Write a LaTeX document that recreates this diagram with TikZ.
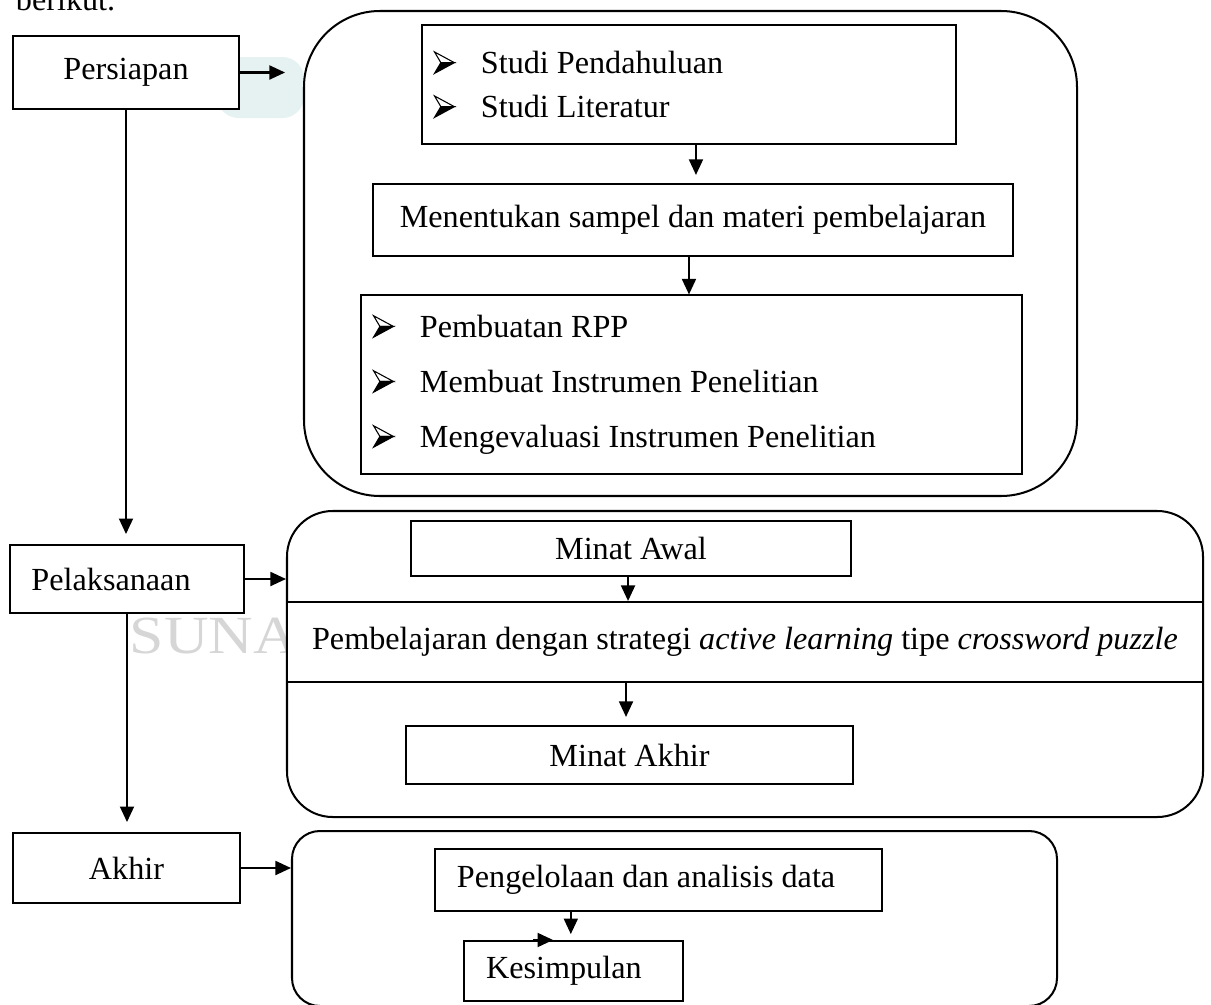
\documentclass[tikz,border=0pt]{standalone}
\usepackage{fontspec}
\setmainfont{Liberation Serif}
\usetikzlibrary{arrows.meta}

\definecolor{latar}{RGB}{230,241,241}
\def\px{0.3727pt}
\newcommand{\tandabutir}{\tikz[baseline=0pt, x=7.4pt, y=8pt, line width=0.4pt, line join=miter]{%
  \filldraw[fill=white] (0,1) -- (1,0.5) -- (0.32,0.5) -- cycle;
  \filldraw[fill=black] (0,0) -- (1,0.5) -- (0.32,0.5) -- cycle;}}
\newcommand{\butir}[1]{\makebox[17.5pt][l]{\tandabutir}#1}

\begin{document}
\begin{tikzpicture}[x=\px, y=-\px, line width=0.75pt,
    kotak/.style={draw, fill=white, inner sep=0pt, font=\fontsize{12}{14}\selectfont},
    kiri/.style={align=left, execute at begin node={\spaceskip=0pt\xspaceskip=0pt}},
    tahap/.style={draw, fill=white, inner sep=0pt},
    panah/.style={-{Triangle[length=5.8pt, width=5.2pt]}}]
\useasboundingbox (0,0) rectangle (1211,1005);

\node[anchor=base west, font=\fontsize{12}{14}\selectfont] (berikut) at (6,11) {berikut.};
\fill[latar, rounded corners=8pt] (217,57) rectangle (304,118);
\node[anchor=base west, text=black!16, font=\fontsize{20}{20}\selectfont] (tanda) at (120,653) {\scalebox{1.15}[1]{SUNA}};

\node[tahap, rounded corners=28.3pt, minimum width=773*\px, minimum height=485*\px] (tahap1) at (690.5,253.5) {};
\node[tahap, rounded corners=17pt, minimum width=916*\px, minimum height=306*\px] (tahap2) at (745,664) {};
\node[tahap, rounded corners=10.4pt, minimum width=765*\px, minimum height=175*\px] (tahap3) at (674.5,918.5) {};

\node[kotak, minimum width=226*\px, minimum height=73*\px] (persiapan) at (126,72.5) {Persiapan};
\node[kotak, kiri, minimum height=68*\px, text width=71.2pt, inner xsep=7.83pt] (pelaksanaan) at (127,579) {Pelaksanaan};
\node[kotak, minimum width=227*\px, minimum height=70*\px] (akhir) at (126.5,868) {Akhir};

\node[kotak, kiri, minimum height=119*\px, text width=190.1pt, inner xsep=4.47pt, font=\fontsize{12}{16.4}\selectfont] (studi) at (689,84.5) {\butir{Studi Pendahuluan}\\\butir{Studi Literatur}};
\node[kotak, minimum width=640*\px, minimum height=72*\px] (menentukan) at (693,220) {Menentukan sampel dan materi pembelajaran};
\node[kotak, kiri, minimum height=179*\px, text width=237.4pt, inner xsep=4.47pt, font=\fontsize{12}{20.5}\selectfont] (rencana) at (691.5,384.5) {\butir{Pembuatan RPP}\\\butir{Membuat Instrumen Penelitian}\\\butir{Mengevaluasi Instrumen Penelitian}};

\node[kotak, minimum width=440*\px, minimum height=55*\px] (minatawal) at (631,548.5) {Minat Awal};
\node[kotak, minimum width=916*\px, minimum height=80*\px] (pembelajaran) at (745,642) {Pembelajaran dengan strategi \textit{active learning} tipe \textit{crossword puzzle}};
\node[kotak, minimum width=447*\px, minimum height=58*\px] (minatakhir) at (629.5,755) {Minat Akhir};

\node[kotak, kiri, minimum height=62*\px, text width=150.2pt, inner xsep=8.2pt] (pengelolaan) at (658.5,880) {Pengelolaan dan analisis data};
\node[kotak, kiri, minimum height=60*\px, text width=65.2pt, inner xsep=8.2pt] (kesimpulan) at (573.5,971) {Kesimpulan};

\coordinate (ma) at ([xshift=-1.3pt]minatakhir.north);
\coordinate (ks) at ([xshift=-1pt]kesimpulan.north);

\draw[panah, shorten >=6.7pt] (persiapan.east) -- (persiapan.east -| tahap1.west);
\draw[panah, shorten >=3.7pt] (persiapan.south) -- (persiapan.south |- pelaksanaan.north);
\draw[panah] (pelaksanaan.east) -- (pelaksanaan.east -| tahap2.west);
\draw[panah, shorten >=3.7pt] (pelaksanaan.south) -- (pelaksanaan.south |- akhir.north);
\draw[panah] (akhir.east) -- (akhir.east -| tahap3.west);

\draw[panah, shorten >=3pt] ([xshift=2.6pt]studi.south) -- ([xshift=2.6pt]studi.south |- menentukan.north);
\draw[panah] ([xshift=-1.5pt]menentukan.south) -- ([xshift=-1.5pt]menentukan.south |- rencana.north);
\draw[panah] ([xshift=-1.1pt]minatawal.south) -- ([xshift=-1.1pt]minatawal.south |- pembelajaran.north);
\draw[panah, shorten >=3pt] (ma |- pembelajaran.south) -- (ma);
\draw[panah, shorten >=2.2pt] (ks |- pengelolaan.south) -- (ks);
\draw[panah] ([xshift=-15pt]kesimpulan.north) -- ([xshift=-7.6pt]kesimpulan.north);

\end{tikzpicture}
\end{document}
